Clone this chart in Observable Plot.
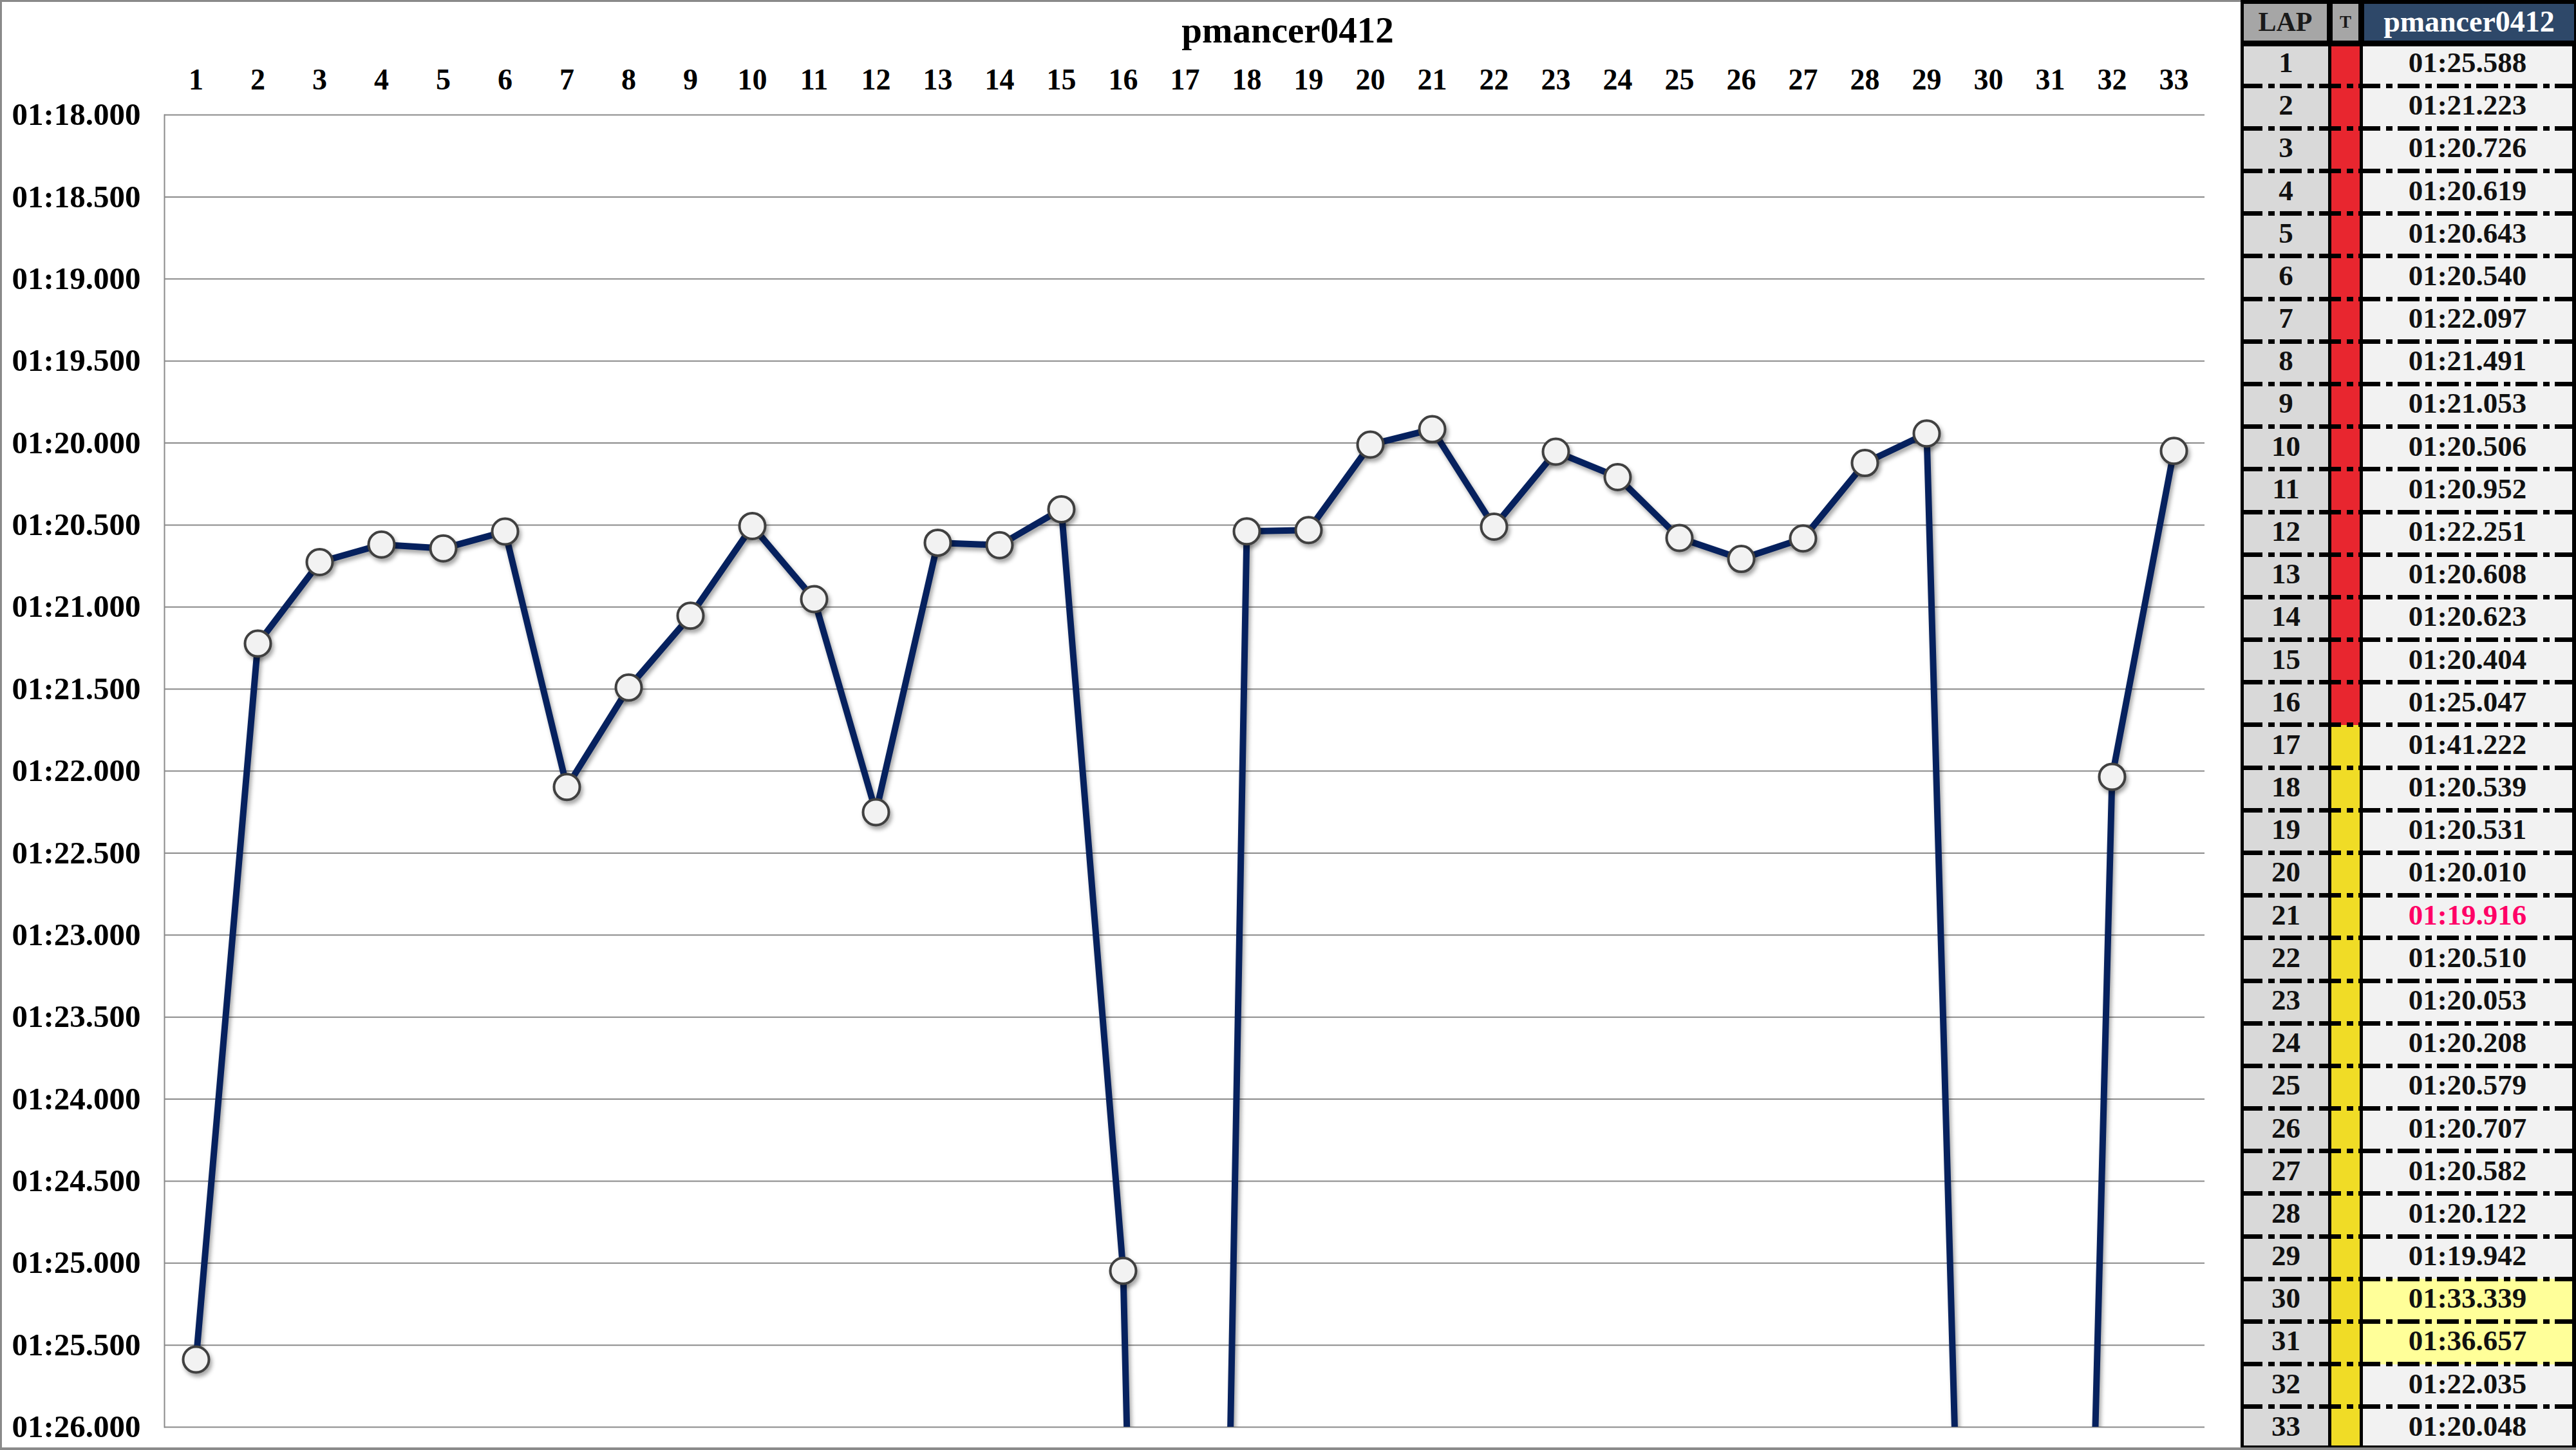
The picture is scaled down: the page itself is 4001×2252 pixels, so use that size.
<!DOCTYPE html>
<html>
<head>
<meta charset="utf-8">
<script src="https://cdn.jsdelivr.net/npm/d3@7"></script>
<script src="https://cdn.jsdelivr.net/npm/@observablehq/plot@0.6"></script>
<style>
  html, body { margin: 0; padding: 0; background: #fff; }
  body { width: 4001px; height: 2252px; position: relative; overflow: hidden;
         font-family: "Liberation Serif", "Times New Roman", serif; font-weight: bold; }
  #chart { position: absolute; left: 0; top: 0; }
  #frame { position: absolute; left: 0; top: 0; width: 3480px; height: 2252px; box-sizing: border-box;
           border-left: 3px solid #8a8a8a; border-top: 3px solid #8a8a8a; pointer-events: none; }
  #bottomline { position: absolute; left: 0; top: 2248px; width: 4001px; height: 4px; background: #8a8a8a; }
  #title { position: absolute; left: 1700px; width: 600px; top: 18px; text-align: center;
           font-size: 57px; line-height: 1; color: #000; }
  #table { position: absolute; left: 3480px; top: 0; width: 521px; height: 2248px; background: #000; overflow: hidden; }
  #table div { position: absolute; box-sizing: border-box; text-align: center; }
  .sep { background-image: repeating-linear-gradient(90deg, #000 0 34px, transparent 34px 43px, #000 43px 53px, transparent 53px 61px);
         background-position: -5px 0; }
</style>
</head>
<body>
<div id="chart"></div>
<div id="frame"></div>
<div id="title"></div>
<div id="table"></div>
<div id="bottomline"></div>
<script>
// ---- data ----
const driver = "pmancer0412";
const laps = [1,2,3,4,5,6,7,8,9,10,11,12,13,14,15,16,17,18,19,20,21,22,23,24,25,26,27,28,29,30,31,32,33];
// lap times in seconds
const lapTimes = [85.588, 81.223, 80.726, 80.619, 80.643, 80.540, 82.097, 81.491, 81.053, 80.506,
                  80.952, 82.251, 80.608, 80.623, 80.404, 85.047, 101.222, 80.539, 80.531, 80.010,
                  79.916, 80.510, 80.053, 80.208, 80.579, 80.707, 80.582, 80.122, 79.942, 93.339,
                  96.657, 82.035, 80.048];
// tyre compound per lap (S = red, M = yellow)
const tyres = ["S","S","S","S","S","S","S","S","S","S","S","S","S","S","S","S",
               "M","M","M","M","M","M","M","M","M","M","M","M","M","M","M","M","M"];
const highlightLaps = [30, 31];
const yTicks = [78, 78.5, 79, 79.5, 80, 80.5, 81, 81.5, 82, 82.5, 83, 83.5, 84, 84.5, 85, 85.5, 86];
const yDomain = [78, 86];
const tyreColors = {S: "#e8262f", M: "#f0dc26"};

const fmt = t => {
  const m = Math.floor(t / 60);
  const s = t - m * 60;
  return String(m).padStart(2, "0") + ":" + s.toFixed(3).padStart(6, "0");
};

const data = laps.map((lap, i) => ({lap, time: lapTimes[i]}));

// ---- chart ----
const chart = Plot.plot({
  width: 3480,
  height: 2252,
  marginLeft: 255,
  marginRight: 56,
  marginTop: 178,
  marginBottom: 36,
  style: {background: "transparent", fontFamily: "'Liberation Serif', 'Times New Roman', serif", fontWeight: "bold", color: "#000", overflow: "visible"},
  x: {type: "point", domain: laps, padding: 0.5},
  y: {domain: yDomain, reverse: true},
  marks: [
    Plot.ruleY(yTicks, {stroke: "#8a8a8a", strokeWidth: 2}),
    Plot.frame({anchor: "left", stroke: "#8a8a8a", strokeWidth: 2}),
    Plot.axisX({anchor: "top", tickSize: 0, tickPadding: 40, fontSize: 46, label: null, fill: "#000"}),
    Plot.axisY({ticks: yTicks, tickFormat: fmt, tickSize: 0, tickPadding: 37, fontSize: 49, label: null, fill: "#000"}),
    Plot.line(data, {x: "lap", y: "time", stroke: "#06215e", strokeWidth: 10, strokeLinejoin: "round", clip: true}),
    Plot.dot(data, {x: "lap", y: "time", r: 20, fill: "#f2f2f2", stroke: "#404040", strokeWidth: 4, clip: true})
  ]
});
document.getElementById("chart").appendChild(chart);
chart.querySelectorAll('g[aria-label="line"], g[aria-label="dot"]').forEach(g => {
  g.style.filter = "drop-shadow(3px 5px 3px rgba(0,0,0,0.35))";
});

document.getElementById("title").textContent = driver;

// ---- table ----
const tbl = document.getElementById("table");
function box(left, top, width, height, styles, text) {
  const d = document.createElement("div");
  Object.assign(d.style, {left: left + "px", top: top + "px", width: width + "px", height: height + "px"}, styles || {});
  if (text != null) d.textContent = text;
  tbl.appendChild(d);
  return d;
}
// header
box(5, 6, 129, 57, {background: "#a6a6a6", color: "#1a1a1a", fontSize: "42px", lineHeight: "57px"}, "LAP");
box(143, 6, 40, 57, {background: "#a6a6a6", color: "#1a1a1a", fontSize: "27px", lineHeight: "57px"}, "T");
box(192, 6, 326, 57, {background: "#2e4869", color: "#fff", fontSize: "46px", lineHeight: "55px"}, driver);

const best = Math.min(...lapTimes);
const b0 = 67, bN = 2251;
const rowH = (bN - b0) / laps.length;
const bodyTop = 72, bodyBottom = 2245;
const body = box(0, bodyTop, 521, bodyBottom - bodyTop, {background: "transparent", overflow: "hidden"});
function cell(left, top, width, height, styles, text) {
  const d = document.createElement("div");
  Object.assign(d.style, {position: "absolute", boxSizing: "border-box", textAlign: "center",
    left: left + "px", top: top + "px", width: width + "px", height: height + "px"}, styles || {});
  if (text != null) d.textContent = text;
  body.appendChild(d);
  return d;
}
laps.forEach((lap, i) => {
  const top = b0 + i * rowH - bodyTop;
  const txt = {fontSize: "45px", lineHeight: (rowH - 6) + "px"};
  cell(5, top, 131, rowH, Object.assign({background: "#d9d9d9", color: "#111"}, txt), String(lap));
  cell(141, top, 44, rowH, {background: tyreColors[tyres[i]]});
  const hl = highlightLaps.includes(lap);
  cell(190, top, 325, rowH, Object.assign({background: hl ? "#ffff99" : "#f2f2f2",
    color: lapTimes[i] === best ? "#ff0066" : "#111"}, txt), fmt(lapTimes[i]));
});
for (let k = 1; k < laps.length; k++) {
  const y = b0 + k * rowH - bodyTop - 3.5;
  const s = cell(5, y, 510, 7, {});
  s.className = "sep";
}
</script>
</body>
</html>
